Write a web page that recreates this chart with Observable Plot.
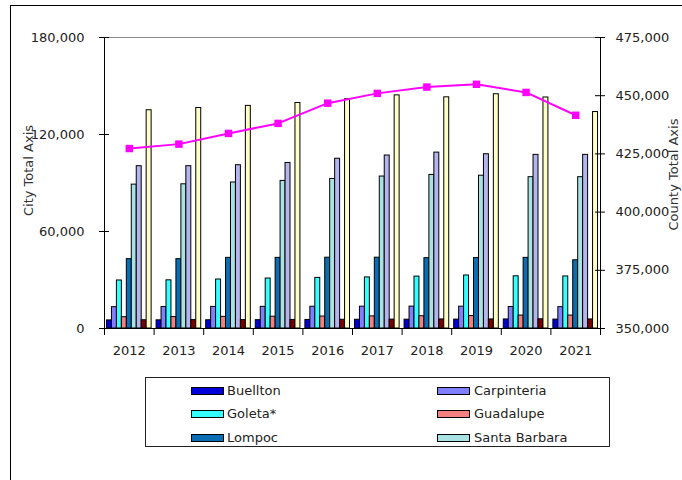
<!DOCTYPE html>
<html><head><meta charset="utf-8">
<script src="https://cdn.jsdelivr.net/npm/d3@7"></script>
<script src="https://cdn.jsdelivr.net/npm/@observablehq/plot@0.6"></script>
<style>
html,body{margin:0;padding:0;background:#fff;overflow:hidden;}
#wrap{position:relative;width:682px;height:480px;overflow:hidden;font-family:"DejaVu Sans",sans-serif;background:#fff;}
#frame{position:absolute;left:10px;top:5px;width:700px;height:500px;border-left:1px solid #000;border-top:1px solid #000;}
#chart{position:absolute;left:0;top:0;}
#legend{position:absolute;left:145px;top:377px;width:465px;height:70px;border:1px solid #222;box-sizing:border-box;background:#fff}
.sw{position:absolute;width:33px;height:8px;border:1px solid #000;box-sizing:border-box;}
.lt{position:absolute;font-size:13px;color:#222;line-height:16px;white-space:nowrap}
</style></head><body>
<div id="wrap"><div id="frame"></div><div id="chart"></div><div id="legend"></div></div>
<script>
const years = [2012, 2013, 2014, 2015, 2016, 2017, 2018, 2019, 2020, 2021];
const cities = ["Buellton", "Carpinteria", "Goleta*", "Guadalupe", "Lompoc", "Santa Barbara", "Santa Maria", "Solvang", "Unincorporated"];
const cityColors = ["#0000dd", "#8080ff", "#33ffff", "#f58080", "#0a6eb4", "#a8e2e2", "#b4b4ee", "#7a0000", "#ffffc8"];

const buellton      = [5000, 5050, 5100, 5150, 5300, 5400, 5450, 5500, 5600, 5500];
const carpinteria   = [13200, 13300, 13350, 13400, 13450, 13500, 13550, 13500, 13300, 13200];
const goleta        = [29700, 29800, 30300, 30900, 31300, 31600, 32100, 32800, 32300, 32200];
const guadalupe     = [7000, 7100, 7200, 7300, 7400, 7500, 7600, 7700, 8000, 8000];
const lompoc        = [42900, 42900, 43700, 43700, 43800, 43800, 43500, 43600, 43700, 42200];
const santaBarbara  = [89000, 89200, 90300, 91300, 92500, 94000, 95000, 94500, 93600, 93600];
const santaMaria    = [100400, 100400, 101000, 102400, 105000, 107000, 108800, 107800, 107400, 107400];
const solvang       = [5100, 5200, 5200, 5300, 5400, 5500, 5600, 5600, 5700, 5600];
const unincorporated= [135000, 136400, 137700, 139500, 141800, 144200, 143000, 144900, 142900, 133900];
const countyTotal   = [427300, 429200, 433800, 438100, 446800, 451000, 453700, 454900, 451400, 441600];

const seriesValues = [buellton, carpinteria, goleta, guadalupe, lompoc, santaBarbara, santaMaria, solvang, unincorporated];
const leftTicks = [0, 60000, 120000, 180000];
const rightTicks = [350000, 375000, 400000, 425000, 450000, 475000];
const legendCities = cities.slice(0, 6);

// table built from the arrays
const data = cities.flatMap((c, ci) => years.map((y, yi) => ({year: y, city: c, value: seriesValues[ci][yi]})));
const county = years.map((y, i) => ({year: y, value: countyTotal[i]}));

// right axis mapped onto left axis scale
const rMin = 350000, rMax = 475000, lMax = 180000;
const toCity = v => (v - rMin) * lMax / (rMax - rMin);
const fromCity = v => v * (rMax - rMin) / lMax + rMin;

// band keys: edge, cities of each year separated by gap keys, edge
const key = (y, c) => `${y}|${c}`;
const xKeys = ["E0"];
years.forEach((y, i) => {
  cities.forEach(c => xKeys.push(key(y, c)));
  if (i < years.length - 1) xKeys.push(key(y, "gap"));
});
xKeys.push("E1");
const boundaryKeys = xKeys.filter(k => k === "E0" || k === "E1" || k.endsWith("|gap"));

const mL = 104, mR = 82, W = 682;
const step = (W - mL - mR) / (xKeys.length - 1);
const fmt = d3.format(",");

const chart = Plot.plot({
  width: W, height: 480,
  marginLeft: mL, marginRight: mR, marginTop: 37, marginBottom: 152,
  style: {fontFamily: "DejaVu Sans", fontSize: "13px", color: "#222", background: "transparent"},
  x: {type: "band", domain: xKeys, range: [mL - step / 2, W - mR + step / 2], padding: 0, round: false, axis: null},
  y: {domain: [0, lMax], axis: null},
  color: {domain: cities, range: cityColors},
  marks: [
    Plot.ruleY([lMax], {stroke: "#8c8c8c"}),
    Plot.barY(data, {x: d => key(d.year, d.city), y: "value", fill: "city", stroke: "#000", strokeWidth: 1}),
    Plot.ruleY([0], {stroke: "#000"}),
    Plot.ruleX(["E0", "E1"], {x: d => d, stroke: "#000"}),
    Plot.ruleX(boundaryKeys, {x: d => d, y1: 0, y2: 0, insetBottom: -7, stroke: "#000"}),
    Plot.tickY(leftTicks, {y: d => d, x: () => "E0", insetLeft: -2.5, insetRight: -2.5, stroke: "#000"}),
    Plot.tickY(rightTicks.map(toCity), {y: d => d, x: () => "E1", insetLeft: -2.5, insetRight: -2.5, stroke: "#000"}),
    Plot.axisY(leftTicks, {anchor: "left", tickSize: 0, tickPadding: 20, tickFormat: fmt, label: null, fill: "#222", fontSize: 13}),
    Plot.axisY(rightTicks.map(toCity), {anchor: "right", tickSize: 0, tickPadding: 15, tickFormat: d => fmt(Math.round(fromCity(d))), label: null, fill: "#222", fontSize: 13}),
    Plot.line(county, {x: d => key(d.year, "Lompoc"), y: d => toCity(d.value), stroke: "#ff00ff", strokeWidth: 2}),
    Plot.dot(county, {x: d => key(d.year, "Lompoc"), y: d => toCity(d.value), symbol: "square", r: 4.2, fill: "#ff00ff", stroke: "none"}),
    Plot.text(years, {x: d => key(d, "Lompoc"), text: d => String(d), frameAnchor: "bottom", lineAnchor: "middle", textAnchor: "middle", dy: 22, fill: "#222", fontSize: 13}),
    Plot.text(["City Total Axis"], {text: d => d, frameAnchor: "top-left", textAnchor: "middle", lineAnchor: "middle", dx: -76, dy: 133, rotate: -90, fill: "#333", fontSize: 13}),
    Plot.text(["County Total Axis"], {text: d => d, frameAnchor: "top-right", textAnchor: "middle", lineAnchor: "middle", dx: 73, dy: 137, rotate: -90, fill: "#333", fontSize: 13})
  ]
});
document.getElementById("chart").appendChild(chart);

// legend (clipped box shows first six entries, as in the original)
const wrap = document.getElementById("wrap");
const colX = [[191, 227], [437, 474]];
const rowY = [390.5, 414, 437.5];
legendCities.forEach((c, i) => {
  const col = i % 2, row = Math.floor(i / 2);
  const sw = document.createElement("div");
  sw.className = "sw";
  sw.style.left = colX[col][0] + "px";
  sw.style.top = (rowY[row] - 4) + "px";
  sw.style.background = cityColors[cities.indexOf(c)];
  wrap.appendChild(sw);
  const t = document.createElement("div");
  t.className = "lt";
  t.textContent = c;
  t.style.left = colX[col][1] + "px";
  t.style.top = (rowY[row] - 8) + "px";
  wrap.appendChild(t);
});
</script>
</body></html>
